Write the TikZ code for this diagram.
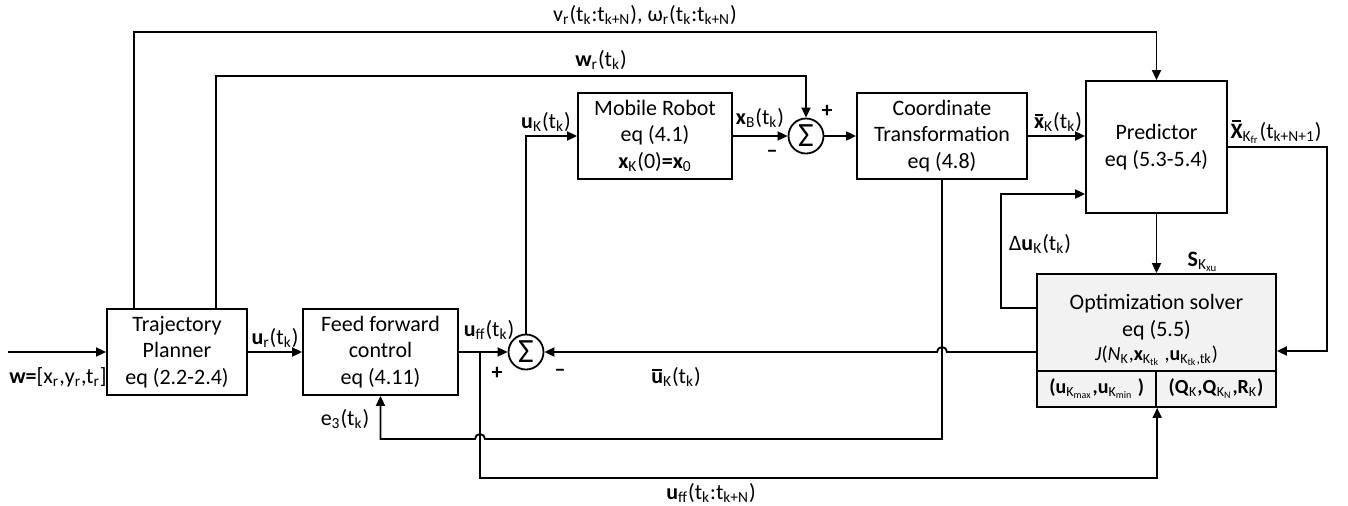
\documentclass[tikz,border=0pt]{standalone}
\usepackage{fontspec}
\setmainfont{Carlito}
\usetikzlibrary{arrows.meta,calc}
\newcommand\fsz{\fontsize{11}{13.2}\selectfont}
\newcommand\fsm{\fontsize{10}{12}\selectfont}
\newcommand\sbs[1]{\textsubscript{#1}}
\newcommand\ovb[1]{\setbox0\hbox{\textbf{#1}}\leavevmode\rlap{\hbox to\wd0{\hss\rule[\dimexpr\ht0+0.9pt\relax]{0.8\wd0}{0.9pt}\hss}}\box0}
\tikzset{
  blk/.style={draw, line width=0.9pt, inner sep=0pt, align=center, font=\fsz},
  conn/.style={line width=0.9pt},
  arr/.style={conn, -{Triangle[length=5pt,width=4.5pt]}},
  lbl/.style={inner sep=0pt, font=\fsz},
  sumn/.style={draw, circle, line width=0.9pt, minimum size=17.5pt, inner sep=0pt, font=\fontsize{17}{17}\selectfont},
}
\begin{document}
\begin{tikzpicture}[x=0.5pt,y=-0.5pt]
\useasboundingbox (0,0) rectangle (1348,505);
% blocks
\node[blk, minimum width=70pt, minimum height=43pt] (tp) at (177,352) {Trajectory\\Planner\\eq (2.2-2.4)};
\node[blk, minimum width=77.5pt, minimum height=43pt] (ff) at (380.5,352) {Feed forward\\control\\eq (4.11)};
\node[blk, minimum width=77pt, minimum height=43pt] (robot) at (655,136) {Mobile Robot\\eq (4.1)\\\textbf{x}\sbs{K}(0)\textbf{=x}\sbs{0}};
\node[blk, minimum width=85pt, minimum height=43pt] (coord) at (942,136) {Coordinate\\Transformation\\eq (4.8)};
\node[blk, minimum width=70.5pt, minimum height=66pt] (pred) at (1156.5,147) {Predictor\\eq (5.3-5.4)};
\node[blk, fill=black!5, minimum width=119.5pt, minimum height=48.5pt] (solver) at (1156.5,322.5) {};
\node[lbl, align=center] (soltxt) at (1156.5,330) {Optimization solver\\eq (5.5)\\[-1pt]{\fsm\textit{J}(\textit{N}\sbs{K},\textbf{x}\sbs{K\sbs{tk}} ,\textbf{u}\sbs{K\sbs{tk},tk})}};
\node[blk, fill=black!5, minimum width=59.5pt, minimum height=18pt, font=\fsm] (lcell) at (1096.75,389) {\textbf{(u}\sbs{K\sbs{max}}\textbf{,u}\sbs{K\sbs{min}} \textbf{)}};
\node[blk, fill=black!5, minimum width=60pt, minimum height=18pt, font=\fsm] (rcell) at (1216,389) {\textbf{(Q}\sbs{K}\textbf{,Q}\sbs{K\sbs{N}}\textbf{,R}\sbs{K}\textbf{)}};
\node[sumn] (sum1) at (806,136) {Σ};
\node[sumn] (sum2) at (526,352) {Σ};
% helper coordinates
\coordinate (win) at (8,352);
\coordinate (vtop) at (0,32);
\coordinate (wtop) at (0,76);
\coordinate (ebot) at (0,439);
\coordinate (ubot) at (0,478);
\coordinate (uffc) at (480,352);
% connectors
\draw[arr] (win) -- (tp.west);
\draw[arr] (tp.east) -- (ff.west);
\draw[arr] (ff.east) -- (sum2.west);
\draw[arr] (sum2.north) |- (robot.west);
\draw[arr] (robot.east) -- (sum1.west);
\draw[arr] (sum1.east) -- (coord.west);
\draw[arr] (coord.east) -- (coord.east -| pred.west);
\draw[arr] (pred.east) -- ++(99,0) |- ($(solver.east)+(0,28.5)$);
\draw[arr] (pred.south) -- (solver.north);
\draw[arr] ($(solver.west)+(0,-14.5)$) -- ++(-35,0) |- ($(pred.west)+(0,47)$);
\draw[arr] (solver.west |- sum2) -- ($(coord.south |- sum2)+(5,0)$) arc[start angle=0,end angle=180,radius=2.5pt] -- (sum2.east);
\draw[arr] (coord.south) -- (coord.south |- ebot) -- ($(uffc |- ebot)+(5,0)$) arc[start angle=0,end angle=180,radius=2.5pt] -- (ff.south |- ebot) -- (ff.south);
\draw[arr] (uffc) -- (uffc |- ubot) -| (lcell.south east);
\draw[arr] ($(tp.north)+(-43,0)$) coordinate (tpa) -- (tpa |- vtop) -| (pred.north);
\draw[arr] ($(tp.north)+(39,0)$) coordinate (tpb) -- (tpb |- wtop) -| (sum1.north);
% labels
\node[lbl] (lw) at (58,377) {\textbf{w=}[x\sbs{r},y\sbs{r},t\sbs{r}]};
\node[lbl] (lur) at (275,338) {\textbf{u}\sbs{r}(t\sbs{k})};
\node[lbl] (luff) at (489,330) {\textbf{u}\sbs{ff}(t\sbs{k})};
\node[lbl] (luk) at (546,122) {\textbf{u}\sbs{K}(t\sbs{k})};
\node[lbl] (lxb) at (760,118) {\textbf{x}\sbs{B}(t\sbs{k})};
\node[lbl] (lxk) at (1058,122) {\ovb{x}\sbs{K}(t\sbs{k})};
\node[lbl] (lXK) at (1276,132) {\ovb{X}\sbs{K\sbs{fr}}(t\sbs{k+N+1})};
\node[lbl] (lS) at (1203,262) {\textbf{S}\sbs{K\sbs{xu}}};
\node[lbl] (ldu) at (1040,244) {Δ\textbf{u}\sbs{K}(t\sbs{k})};
\node[lbl] (lubar) at (676,377) {\ovb{u}\sbs{K}(t\sbs{k})};
\node[lbl] (le3) at (345,419) {e\sbs{3}(t\sbs{k})};
\node[lbl] (luffN) at (711,493) {\textbf{u}\sbs{ff}(t\sbs{k}:t\sbs{k+N})};
\node[lbl] (lvr) at (645,15) {v\sbs{r}(t\sbs{k}:t\sbs{k+N}), ω\sbs{r}(t\sbs{k}:t\sbs{k+N})};
\node[lbl] (lwr) at (601,60) {\textbf{w}\sbs{r}(t\sbs{k})};
\node[lbl] (p1) at (827,111) {\textbf{+}};
\node[lbl] (m1) at (772,154) {\textbf{–}};
\node[lbl] (p2) at (497,373) {\textbf{+}};
\node[lbl] (m2) at (560,373) {\textbf{–}};
\end{tikzpicture}
\end{document}
